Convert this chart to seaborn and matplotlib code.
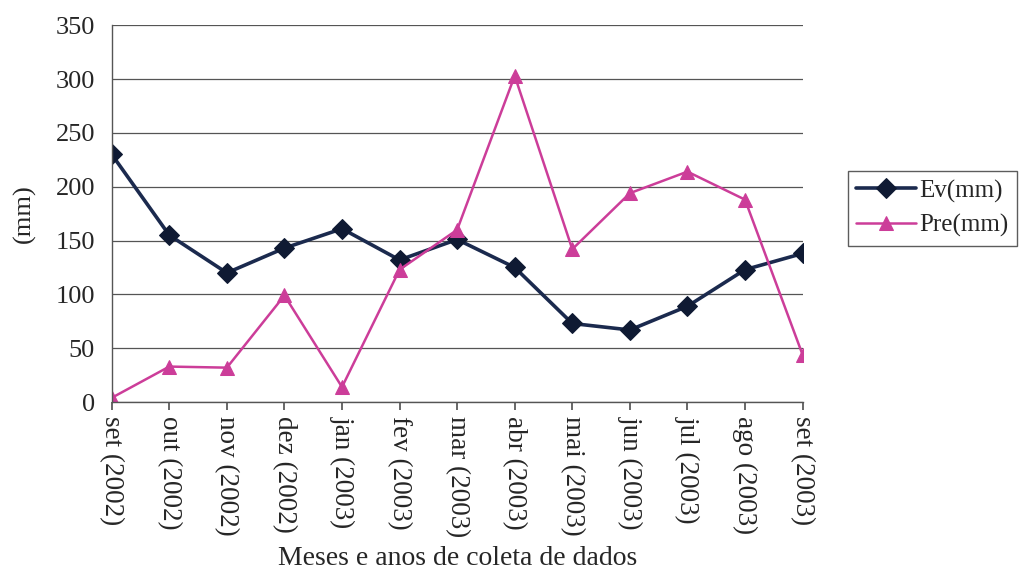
import matplotlib
matplotlib.use("Agg")
import matplotlib.pyplot as plt
import seaborn as sns
import pandas as pd

meses = ["set (2002)", "out (2002)", "nov (2002)", "dez (2002)", "jan (2003)",
         "fev (2003)", "mar (2003)", "abr (2003)", "mai (2003)", "jun (2003)",
         "jul (2003)", "ago (2003)", "set (2003)"]
ev_mm = [230, 155, 120, 143, 161, 132, 151, 125, 73, 67, 89, 123, 138]
pre_mm = [4, 33, 32, 99, 14, 123, 160, 303, 142, 194, 214, 188, 44]
y_ticks = [0, 50, 100, 150, 200, 250, 300, 350]

sns.set_theme(style="white")
plt.rcParams["font.family"] = ["Liberation Serif", "DejaVu Serif"]

df = pd.DataFrame({"pos": range(len(meses)), "mes": meses,
                   "Ev(mm)": ev_mm, "Pre(mm)": pre_mm})

fig = plt.figure(figsize=(10.25, 5.72), dpi=100)
ax = fig.add_axes([0.109, 0.297, 0.674, 0.659])

sns.lineplot(data=df, x="pos", y="Ev(mm)", ax=ax, color="#1b2a4e",
             marker="D", markersize=10, markerfacecolor="#0f1a33",
             markeredgecolor="#0f1a33", linewidth=2.6, label="Ev(mm)")
sns.lineplot(data=df, x="pos", y="Pre(mm)", ax=ax, color="#cc3d99",
             marker="^", markersize=10, markerfacecolor="#cc3d99",
             markeredgecolor="#cc3d99", linewidth=1.8, label="Pre(mm)")

ax.set_xlim(0, len(meses) - 1)
ax.set_ylim(0, 350)
ax.set_yticks(y_ticks)
ax.set_yticklabels([str(v) for v in y_ticks], fontsize=19)
ax.set_xticks(range(len(meses)))
ax.set_xticklabels(meses, rotation=-90, fontsize=19.5, va="top", ha="center")
ax.yaxis.grid(True, color="#555555", linewidth=0.9)
ax.xaxis.grid(False)
for side in ["top", "right"]:
    ax.spines[side].set_visible(False)
for side in ["left", "bottom"]:
    ax.spines[side].set_color("#555555")
    ax.spines[side].set_linewidth(1.0)
ax.tick_params(axis="x", bottom=True, direction="out", length=6,
               color="#555555", pad=4)
ax.tick_params(axis="y", left=False, pad=6)

ax.set_xlabel("Meses e anos de coleta de dados", fontsize=20, labelpad=6)
ax.set_ylabel("(mm)", fontsize=19, labelpad=14)

leg = ax.legend(loc="center left", bbox_to_anchor=(0.827, 0.636),
                bbox_transform=fig.transFigure,
                frameon=True, fancybox=False, fontsize=18,
                handlelength=2.4, handletextpad=0.1, borderpad=0.35,
                labelspacing=0.45, borderaxespad=0)
leg.get_frame().set_edgecolor("#333333")
leg.get_frame().set_linewidth(1.0)

fig.savefig("out.png", dpi=100)
